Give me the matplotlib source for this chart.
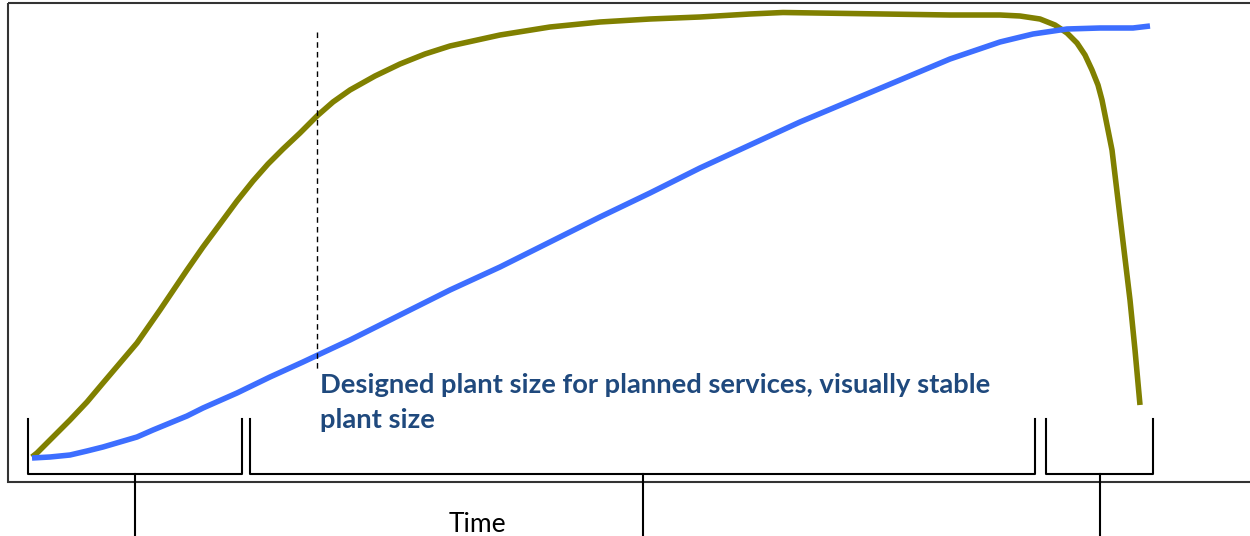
import numpy as np
import matplotlib.pyplot as plt
from matplotlib.patches import Rectangle

# ---------------------------------------------------------------
# Data (in image pixel units)
# ---------------------------------------------------------------
# blue curve: plant size
blue_x = [32, 50, 70, 87, 103, 120, 137, 153, 170, 187, 203, 237, 270, 303, 320, 350,
          400, 450, 500, 550, 600, 650, 700, 750, 800, 850, 900, 950, 1000, 1033,
          1067, 1100, 1133, 1150]
blue_y = [458, 457, 455, 451, 447, 442, 437, 430, 423, 416, 408, 393, 377, 362, 354, 340,
          315, 290, 267, 242, 217, 193, 168, 145, 122, 101, 80, 59, 42, 34,
          29, 28, 28, 26]

# olive curve: services
olive_x = [32, 37, 50, 70, 87, 103, 120, 137, 160, 187, 203, 220, 237, 253, 268, 283,
           300, 317, 333, 350, 375, 400, 425, 450, 500, 550, 600, 650, 700, 750, 783,
           850, 950, 1000, 1020, 1040, 1055, 1067, 1077, 1085, 1092, 1098, 1102,
           1107, 1112, 1118, 1124, 1130, 1135, 1140]
olive_y = [457, 453, 440, 420, 402, 383, 363, 343, 310, 270, 247, 224, 201, 181, 164, 149,
           133, 116, 102, 90, 76, 64, 54, 46, 35, 27, 22, 19, 17, 14, 12.5,
           13.5, 15, 15, 16, 19, 25, 33, 43, 55, 70, 85, 100,
           125, 150, 200, 250, 300, 350, 405]

# phases along the time axis (left, right)
phases = [(28, 242), (250, 1035), (1046, 1153)]

marker_x = 317
label_lines = ["Designed plant size for planned services, visually stable", "plant size"]

# ---------------------------------------------------------------
# Plot
# ---------------------------------------------------------------
fig = plt.figure(figsize=(12.5, 5.36), dpi=100)
ax = fig.add_axes([0, 0, 1, 1])
ax.set_xlim(0, 1250)
ax.set_ylim(536, 0)
ax.axis('off')

# frame
ax.add_patch(Rectangle((8, 3), 1260, 479, fill=False, edgecolor='#333333', lw=1.5))

ax.plot(olive_x, olive_y, color='#808000', lw=4, solid_capstyle='butt', solid_joinstyle='round')
ax.plot(blue_x, blue_y, color='#3D6EFF', lw=4, solid_capstyle='butt', solid_joinstyle='round')

# dashed marker
ax.plot([marker_x, marker_x], [32, 370], color='black', lw=1, ls=(0, (4, 3)))

for i, line in enumerate(label_lines):
    ax.text(320, 393 + 35 * i, line, color='#1F497D', fontsize=19.7, fontweight='bold',
            family='Lato', ha='left', va='baseline')

# brackets
for left, right in phases:
    mid = (left + right) / 2
    ax.plot([left, left, right, right], [419, 474, 474, 419], color='black', lw=1.5)
    ax.plot([mid, mid], [474, 536], color='black', lw=1.5)

ax.text(477, 532, 'Time', fontsize=19, family='Lato', ha='center', va='baseline')

plt.savefig('out.png', dpi=100)
